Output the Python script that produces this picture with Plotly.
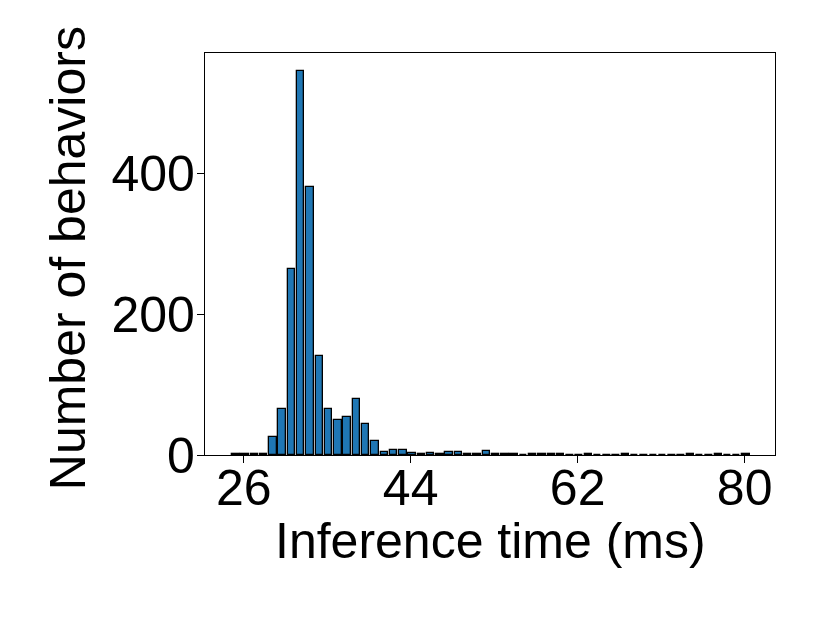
import plotly.graph_objects as go

# Histogram data (bin width ~1 ms, starting ~24.65 ms)
bin_start = 24.65
bin_width = 1.0
counts = [1, 1, 1, 2, 25, 66, 264, 545, 380, 140, 66, 50, 54, 79, 44, 20,
          4, 7, 7, 3, 2, 3, 2, 4, 4, 1, 1, 5, 2, 1, 2, 0, 2, 2, 2, 1,
          0, 0, 1, 0, 0, 0, 1, 0, 0, 0, 0, 0, 0, 1, 0, 0, 1, 0, 0, 1]
bin_centers = [bin_start + bin_width * (i + 0.5) for i in range(len(counts))]

x_ticks = [26, 44, 62, 80]
y_ticks = [0, 200, 400]
x_title = "Inference time (ms)"
y_title = "Number of behaviors"

FONT = "Liberation Sans, Arial, sans-serif"

fig = go.Figure(go.Bar(
    x=bin_centers,
    y=counts,
    width=[bin_width * 0.8] * len(counts),
    marker=dict(color="#1f77b4", line=dict(color="black", width=1.3)),
))

axis_common = dict(
    showline=True, linecolor="black", linewidth=1.3, mirror=True,
    ticks="outside", ticklen=7, tickwidth=1.3, tickcolor="black",
    showgrid=False, zeroline=False,
    tickfont=dict(family=FONT, size=50, color="black"),
)

fig.update_layout(
    width=830, height=623,
    paper_bgcolor="white", plot_bgcolor="white",
    margin=dict(l=197, r=63, t=45, b=176),
    showlegend=False,
    bargap=0,
    xaxis=dict(range=[21.83, 83.27], tickvals=x_ticks,
               ticklabelstandoff=-18, **axis_common),
    yaxis=dict(range=[0, 571], tickvals=y_ticks,
               ticklabelstandoff=-8, **axis_common),
    annotations=[
        dict(text=x_title, xref="paper", yref="paper", x=0.5, y=-0.215,
             xanchor="center", yanchor="middle", showarrow=False,
             font=dict(family=FONT, size=50, color="black")),
        dict(text=y_title, xref="paper", yref="paper", x=-0.24, y=0.49,
             xanchor="center", yanchor="middle", showarrow=False, textangle=-90,
             font=dict(family=FONT, size=50, color="black")),
    ],
)

fig.write_html("out.html")
